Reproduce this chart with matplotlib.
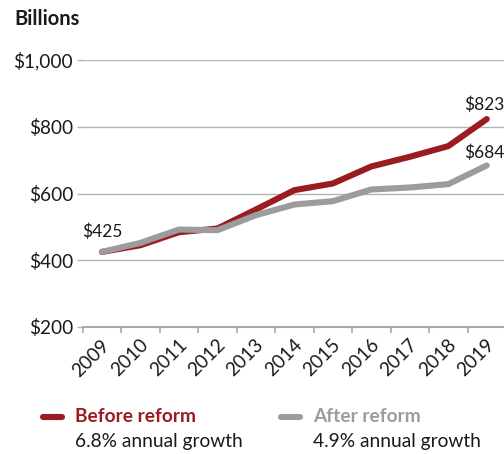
import matplotlib
matplotlib.use("Agg")
import matplotlib.pyplot as plt
import matplotlib.transforms as mtransforms
from matplotlib.ticker import FixedLocator

years = ["2009", "2010", "2011", "2012", "2013", "2014", "2015", "2016", "2017", "2018", "2019"]
before_reform = [425, 445, 484, 495, 552, 610, 630, 681, 710, 742, 823]
after_reform = [425, 452, 492, 490, 535, 567, 577, 612, 618, 628, 684]
y_ticks = [200, 400, 600, 800, 1000]
y_tick_labels = ["$200", "$400", "$600", "$800", "$1,000"]

RED = "#9b1c20"
GRAY = "#9c9c9e"
GRID = "#b4b4b4"

plt.rcParams['font.family'] = ['Lato', 'DejaVu Sans']

W, H = 504, 454
fig = plt.figure(figsize=(W / 100, H / 100), dpi=100)
left_px, right_px, top_px, bot_px = 82.7, 506, 60, 327
ax = fig.add_axes([left_px / W, 1 - bot_px / H, (right_px - left_px) / W, (bot_px - top_px) / H])

x = list(range(len(years)))
ax.plot(x, before_reform, color=RED, lw=4.4, solid_capstyle='round', solid_joinstyle='miter', zorder=3)
ax.plot(x, after_reform, color=GRAY, lw=4.4, solid_capstyle='round', solid_joinstyle='miter', zorder=4)

ax.set_xlim(-0.5, len(years) - 0.5)
ax.set_ylim(200, 1000)

ax.set_yticks(y_ticks)
ax.set_yticklabels(y_tick_labels, fontsize=13.7, color="#1a1a1a")
ax.yaxis.grid(True, color=GRID, lw=1.0)
ax.tick_params(axis='y', length=4, width=1.0, color=GRID, pad=3)

ax.set_xticks(x)
ax.set_xticklabels(years, fontsize=13.7, color="#1a1a1a", rotation=45, ha='right', va='center', rotation_mode='anchor')
ax.tick_params(axis='x', which='major', length=0, pad=11)
ax.xaxis.set_minor_locator(FixedLocator([i - 0.5 for i in range(len(years) + 1)]))
ax.tick_params(axis='x', which='minor', length=4, width=1.2, color="#a8a8a8")
offset = mtransforms.ScaledTranslation(5 / 100, 0, fig.dpi_scale_trans)
for lab in ax.get_xticklabels():
    lab.set_transform(lab.get_transform() + offset)

for s in ['top', 'right', 'left']:
    ax.spines[s].set_visible(False)
ax.spines['bottom'].set_color("#a8a8a8")
ax.spines['bottom'].set_linewidth(1.5)
ax.set_axisbelow(True)

ax.annotate("$" + str(before_reform[0]), (0, before_reform[0]), xytext=(0, 14.5), textcoords='offset points',
            ha='center', va='center', fontsize=12.5, color="#1a1a1a", annotation_clip=False)
ax.annotate("$" + str(before_reform[-1]), (x[-1], before_reform[-1]), xytext=(-2, 10), textcoords='offset points',
            ha='center', va='center', fontsize=12.5, color="#1a1a1a", annotation_clip=False)
ax.annotate("$" + str(after_reform[-1]), (x[-1], after_reform[-1]), xytext=(-2, 9.5), textcoords='offset points',
            ha='center', va='center', fontsize=12.5, color="#1a1a1a", annotation_clip=False)

fig.text(14 / W, 1 - 19 / H, "Billions", fontsize=14.5, fontweight='bold', color="#1a1a1a", ha='left', va='center')

# legend
fig.add_artist(plt.Line2D([43 / W, 62 / W], [1 - 417 / H, 1 - 417 / H], color=RED, lw=4.4, solid_capstyle='round'))
fig.text(75 / W, 1 - 416 / H, "Before reform", fontsize=13.8, fontweight='bold', color=RED, ha='left', va='center')
fig.text(75 / W, 1 - 442 / H, "6.8% annual growth", fontsize=13.8, color="#1a1a1a", ha='left', va='center')
fig.add_artist(plt.Line2D([281 / W, 300 / W], [1 - 417 / H, 1 - 417 / H], color=GRAY, lw=4.4, solid_capstyle='round'))
fig.text(313 / W, 1 - 416 / H, "After reform", fontsize=13.8, fontweight='bold', color=GRAY, ha='left', va='center')
fig.text(313 / W, 1 - 442 / H, "4.9% annual growth", fontsize=13.8, color="#1a1a1a", ha='left', va='center')

fig.savefig("out.png", dpi=100)
